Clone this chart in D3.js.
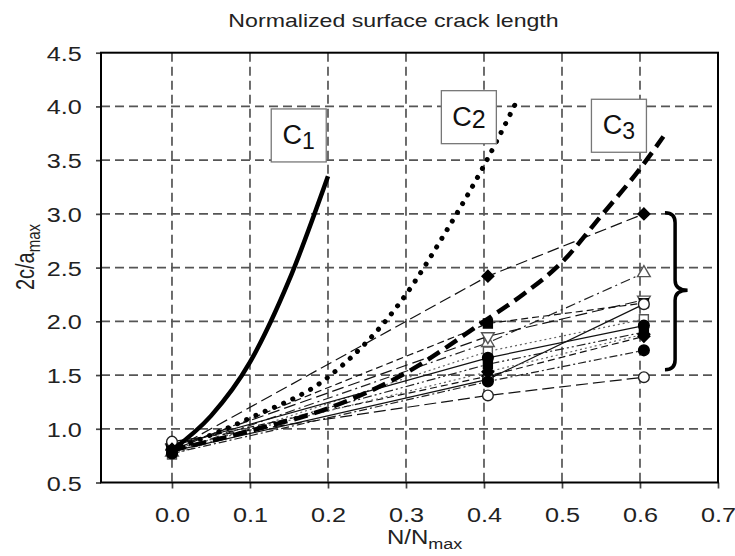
<!DOCTYPE html>
<html>
<head>
<meta charset="utf-8">
<script src="https://cdn.jsdelivr.net/npm/d3@7"></script>
<style>
    body { margin: 0; background: #fff; }
    svg { display: block; font-family: "Liberation Sans", Arial, sans-serif; }
</style>
</head>
<body>
<div id="vis"></div>
<script>
// tick values
var xTickVals = [0.0, 0.1, 0.2, 0.3, 0.4, 0.5, 0.6, 0.7];
var yTickVals = [0.5, 1.0, 1.5, 2.0, 2.5, 3.0, 3.5, 4.0, 4.5];

// measured specimens: crack length at N/Nmax = 0, ~0.4, ~0.6
var measuredN = [0, 0.405, 0.605];
var specimenStart = [0.80, 0.78, 0.82, 0.80, 0.76, 0.84, 0.80, 0.86, 0.79, 0.77, 0.88, 0.81];
var specimenAt04  = [2.42, 1.80, 1.86, 1.98, 1.72, 1.66, 1.60, 1.49, 1.46, 1.44, 1.31, 1.53];
var specimenAt06  = [3.00, 2.45, 2.20, 2.17, 2.02, 1.96, 1.90, 1.86, 2.16, 1.73, 1.48, 1.88];

// model curves C1, C2, C3
var c1N   = [0, 0.05, 0.1, 0.15, 0.2];
var c1Len = [0.80, 1.12, 1.62, 2.38, 3.35];
var c2N   = [0, 0.1, 0.2, 0.3, 0.35, 0.4, 0.44];
var c2Len = [0.80, 1.10, 1.48, 2.25, 2.82, 3.45, 4.02];
var c3N   = [0, 0.1, 0.2, 0.3, 0.4, 0.45, 0.5, 0.55, 0.6, 0.63];
var c3Len = [0.80, 0.98, 1.19, 1.52, 2.00, 2.25, 2.55, 2.98, 3.42, 3.72];

// curve labels (position in data units)
var labelNames = ['1', '2', '3'];
var labelN     = [0.1625, 0.3806, 0.573];
var labelLen   = [3.73, 3.90, 3.82];

// styles (kept apart from values)
var markerKind = ['diamond', 'triOpen', 'triDownOpen', 'square', 'squareOpen', 'circle',
                  'square', 'diamond', 'circleOpen', 'circle', 'circleOpen', 'diamond'];
var lineDash = ['12,5', '10,4,2,4', '12,5', '7,4', '2,3', null,
                '9,3,2,3,2,3', '7,4', null, '8,3,2,3', '12,5', '2,3'];
var lineColor = ['#111', '#222', '#111', '#111', '#666', '#111',
                 '#222', '#111', '#111', '#222', '#111', '#666'];

var W = 735, H = 556;
var margin = { left: 101, top: 52.7, right: 17, bottom: 73.5 };

var svg = d3.select('#vis').append('svg')
    .attr('width', W)
    .attr('height', H);

var xScale = d3.scaleLinear().domain([-0.091, 0.7]).range([margin.left, W - margin.right]);
var yScale = d3.scaleLinear().domain([0.5, 4.5]).range([H - margin.bottom, margin.top]);

var x0 = xScale.range()[0], x1 = xScale.range()[1];
var yb = yScale.range()[0], yt = yScale.range()[1];

// stretched text helper (the source text is wide)
var wideText = function(parent, x, y, sx, extra) {
    return parent.append('g')
        .attr('transform', 'translate(' + x + ',' + y + ') scale(' + sx + ',1)' + (extra || ''))
        .append('text');
};

// grid
svg.append('g').selectAll('line.vg')
    .data(xTickVals.slice(0, -1))
    .enter().append('line')
    .attr('x1', function(d) { return xScale(d); })
    .attr('x2', function(d) { return xScale(d); })
    .attr('y1', yt).attr('y2', yb)
    .attr('stroke', '#555')
    .attr('stroke-width', 1.7)
    .attr('stroke-dasharray', '9,5');

svg.append('g').selectAll('line.hg')
    .data(yTickVals.slice(1, -1))
    .enter().append('line')
    .attr('x1', x0).attr('x2', x1)
    .attr('y1', function(d) { return yScale(d); })
    .attr('y2', function(d) { return yScale(d); })
    .attr('stroke', '#555')
    .attr('stroke-width', 1.7)
    .attr('stroke-dasharray', '9,5');

// axes
var xAxis = d3.axisBottom(xScale)
    .tickValues(xTickVals)
    .tickSize(6)
    .tickSizeOuter(0)
    .tickFormat(d3.format('.1f'));

var yAxis = d3.axisLeft(yScale)
    .tickValues(yTickVals)
    .tickSize(5)
    .tickSizeOuter(0)
    .tickFormat(d3.format('.1f'));

var gx = svg.append('g')
    .attr('transform', 'translate(0,' + yb + ')')
    .call(xAxis);
gx.select('.domain').remove();
gx.selectAll('line').attr('stroke', '#444').attr('stroke-width', 1.7);
gx.selectAll('text')
    .attr('y', 39.5)
    .attr('dy', null)
    .attr('fill', '#222')
    .style('font-size', '21px')
    .attr('transform', 'scale(1.2,1)');

var gy = svg.append('g')
    .attr('transform', 'translate(' + x0 + ',0)')
    .call(yAxis);
gy.select('.domain').remove();
gy.selectAll('line').attr('stroke', '#444').attr('stroke-width', 1.7);
gy.selectAll('text')
    .attr('x', -16)
    .attr('y', 7.5)
    .attr('dy', null)
    .attr('fill', '#222')
    .style('font-size', '21px')
    .attr('transform', 'scale(1.2,1)');

// specimen lines
var specimenLine = d3.line()
    .x(function(d) { return xScale(d[0]); })
    .y(function(d) { return yScale(d[1]); });

var specimens = specimenStart.map(function(v, i) {
    return [[measuredN[0], v], [measuredN[1], specimenAt04[i]], [measuredN[2], specimenAt06[i]]];
});

svg.append('g').selectAll('path')
    .data(specimens)
    .enter().append('path')
    .attr('d', specimenLine)
    .attr('fill', 'none')
    .attr('stroke', function(d, i) { return lineColor[i]; })
    .attr('stroke-width', 1.2)
    .attr('stroke-dasharray', function(d, i) { return lineDash[i]; });

// markers
var markerShape = {
    diamond:     { type: d3.symbolSquare,   size: 70, rot: 45,  fill: '#000', stroke: '#000' },
    square:      { type: d3.symbolSquare,   size: 80, rot: 0,   fill: '#000', stroke: '#000' },
    squareOpen:  { type: d3.symbolSquare,   size: 80, rot: 0,   fill: '#fff', stroke: '#555' },
    circle:      { type: d3.symbolCircle,   size: 90, rot: 0,   fill: '#000', stroke: '#000' },
    circleOpen:  { type: d3.symbolCircle,   size: 90, rot: 0,   fill: '#fff', stroke: '#222' },
    triOpen:     { type: d3.symbolTriangle, size: 70, rot: 0,   fill: '#fff', stroke: '#555' },
    triDownOpen: { type: d3.symbolTriangle, size: 70, rot: 180, fill: '#fff', stroke: '#555' }
};

var markerData = [];
specimens.forEach(function(s, i) {
    s.forEach(function(p) { markerData.push({ n: p[0], v: p[1], kind: markerKind[i] }); });
});

svg.append('g').selectAll('path')
    .data(markerData)
    .enter().append('path')
    .attr('d', function(d) { return d3.symbol().type(markerShape[d.kind].type).size(markerShape[d.kind].size)(); })
    .attr('transform', function(d) {
        return 'translate(' + xScale(d.n) + ',' + yScale(d.v) + ') rotate(' + markerShape[d.kind].rot + ')';
    })
    .attr('fill', function(d) { return markerShape[d.kind].fill; })
    .attr('stroke', function(d) { return markerShape[d.kind].stroke; })
    .attr('stroke-width', 1.4);

// model curves
var curveLine = d3.line()
    .x(function(d) { return xScale(d[0]); })
    .y(function(d) { return yScale(d[1]); })
    .curve(d3.curveMonotoneX);

var zip = function(a, b) { return a.map(function(v, i) { return [v, b[i]]; }); };

svg.append('path')
    .attr('d', curveLine(zip(c1N, c1Len)))
    .attr('fill', 'none')
    .attr('stroke', '#000')
    .attr('stroke-width', 4.5);

svg.append('path')
    .attr('d', curveLine(zip(c2N, c2Len)))
    .attr('fill', 'none')
    .attr('stroke', '#000')
    .attr('stroke-width', 5)
    .attr('stroke-linecap', 'round')
    .attr('stroke-dasharray', '0.1,10');

svg.append('path')
    .attr('d', curveLine(zip(c3N, c3Len)))
    .attr('fill', 'none')
    .attr('stroke', '#000')
    .attr('stroke-width', 4.5)
    .attr('stroke-dasharray', '14,7');

// curve labels
var boxW = 55, boxH = 53;
labelNames.forEach(function(name, i) {
    var cx = xScale(labelN[i]), cy = yScale(labelLen[i]);
    svg.append('rect')
        .attr('x', cx - boxW / 2)
        .attr('y', cy - boxH / 2)
        .attr('width', boxW)
        .attr('height', boxH)
        .attr('fill', '#fff')
        .attr('stroke', '#777')
        .attr('stroke-width', 1.3);
    var t = svg.append('text')
        .attr('x', cx)
        .attr('y', cy + 8.5)
        .attr('text-anchor', 'middle')
        .attr('fill', '#111');
    t.append('tspan').style('font-size', '27px').text('C');
    t.append('tspan').style('font-size', name === '2' ? '25px' : '23px')
        .attr('dy', name === '2' ? 2 : 5)
        .text(name);
});

// brace
var bTop = yScale(3.01), bBot = yScale(1.55), bMid = yScale(2.29);
var bL = xScale(0.632), bS = xScale(0.645), bR = xScale(0.661);
svg.append('path')
    .attr('d', 'M' + bL + ',' + bTop +
        ' Q' + bS + ',' + bTop + ' ' + bS + ',' + (bTop + 10) +
        ' L' + bS + ',' + (bMid - 10) +
        ' Q' + bS + ',' + bMid + ' ' + bR + ',' + bMid +
        ' Q' + bS + ',' + bMid + ' ' + bS + ',' + (bMid + 10) +
        ' L' + bS + ',' + (bBot - 10) +
        ' Q' + bS + ',' + bBot + ' ' + bL + ',' + bBot)
    .attr('fill', 'none')
    .attr('stroke', '#000')
    .attr('stroke-width', 3.5);

// frame
svg.append('rect')
    .attr('x', x0).attr('y', yt)
    .attr('width', x1 - x0).attr('height', yb - yt)
    .attr('fill', 'none')
    .attr('stroke', '#000')
    .attr('stroke-width', 2);

// title and axis labels
wideText(svg, 393.5, 27, 1.25)
    .attr('text-anchor', 'middle')
    .attr('fill', '#222')
    .style('font-size', '18.5px')
    .text('Normalized surface crack length');

var xl = wideText(svg, 387, 544, 1.2).attr('fill', '#222');
xl.append('tspan').style('font-size', '20px').text('N/N');
xl.append('tspan').style('font-size', '15px').attr('dy', 5).text('max');

var yl = wideText(svg, 34, 257, 1.25, ' rotate(-90)')
    .attr('text-anchor', 'middle')
    .attr('fill', '#222');
yl.append('tspan').style('font-size', '20px').text('2c/a');
yl.append('tspan').style('font-size', '15px').attr('dy', 5).text('max');
</script>
</body>
</html>
